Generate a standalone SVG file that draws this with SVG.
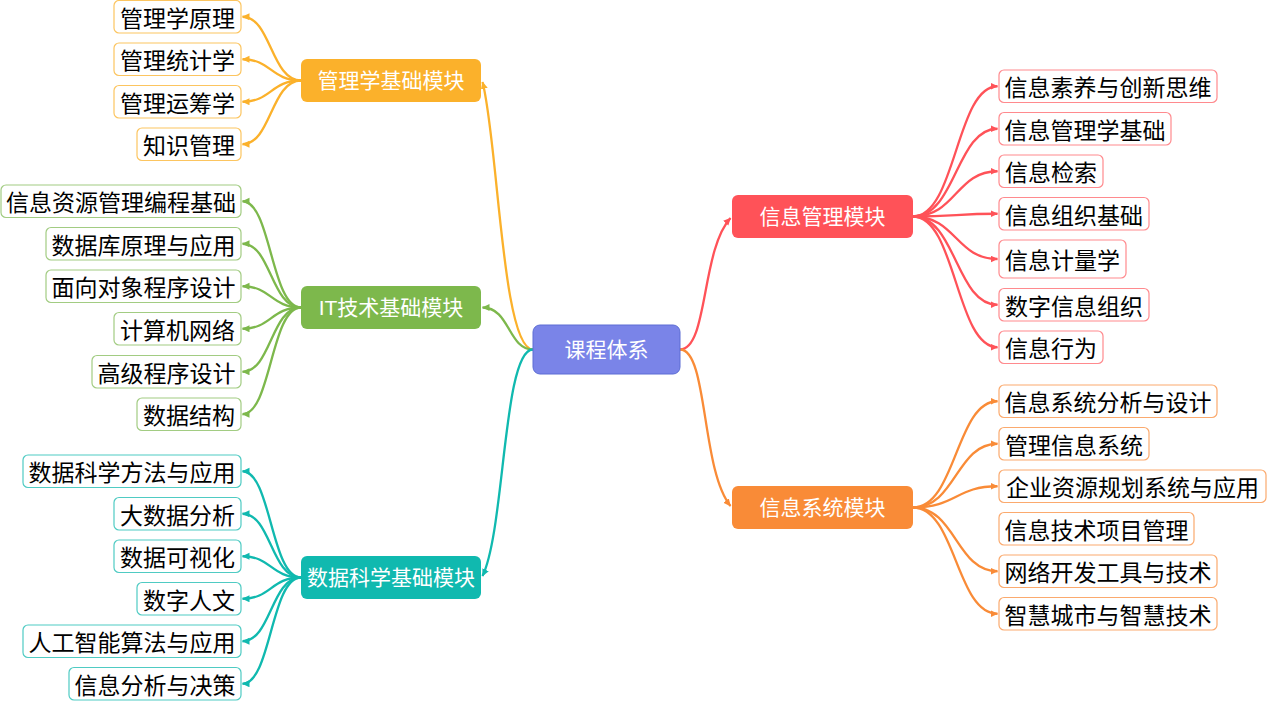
<svg xmlns="http://www.w3.org/2000/svg" width="1267" height="701" viewBox="0 0 1267 701">
<style>
text{font-family:"Liberation Sans","Noto Sans CJK SC",sans-serif;text-anchor:middle;dominant-baseline:central}
.leaf rect{fill:#fff;stroke-width:1.2}
.leaf text{font-size:23px;fill:#000;transform:translateY(2px)}
.mod text,.root text{font-size:21px;fill:#fff}
.c{fill:none;stroke-width:2.3}
.am{stroke:#FBB12B}.gr{stroke:#7DB84C}.te{stroke:#10B9AF}.re{stroke:#FF5258}.or{stroke:#F98B37}
.l-am rect{stroke:#FCC560}.l-gr rect{stroke:#A2CC82}.l-te rect{stroke:#4FCBC3}.l-re rect{stroke:#FF8A8E}.l-or rect{stroke:#FBAA6E}
</style>
<defs>
<marker id="a-am" markerUnits="userSpaceOnUse" markerWidth="8" markerHeight="8" refX="7" refY="3.5" orient="auto"><path d="M0,0L7.5,3.5L0,7z" fill="#FBB12B"/></marker>
<marker id="a-gr" markerUnits="userSpaceOnUse" markerWidth="8" markerHeight="8" refX="7" refY="3.5" orient="auto"><path d="M0,0L7.5,3.5L0,7z" fill="#7DB84C"/></marker>
<marker id="a-te" markerUnits="userSpaceOnUse" markerWidth="8" markerHeight="8" refX="7" refY="3.5" orient="auto"><path d="M0,0L7.5,3.5L0,7z" fill="#10B9AF"/></marker>
<marker id="a-re" markerUnits="userSpaceOnUse" markerWidth="8" markerHeight="8" refX="7" refY="3.5" orient="auto"><path d="M0,0L7.5,3.5L0,7z" fill="#FF5258"/></marker>
<marker id="a-or" markerUnits="userSpaceOnUse" markerWidth="8" markerHeight="8" refX="7" refY="3.5" orient="auto"><path d="M0,0L7.5,3.5L0,7z" fill="#F98B37"/></marker>
</defs>

<g id="connectors">
<path class="c am" marker-end="url(#a-am)" d="M533,349.5 C502,349.5 498,140 482.5,82"/>
<path class="c gr" marker-end="url(#a-gr)" d="M533,349.5 C508,349.5 510,307.5 482.5,307.5"/>
<path class="c te" marker-end="url(#a-te)" d="M533,349.5 C503,349.5 505,530 482.5,576"/>
<path class="c re" marker-end="url(#a-re)" d="M680,349.5 C708,349.5 701,250 730.5,218"/>
<path class="c or" marker-end="url(#a-or)" d="M680,349.5 C708,349.5 701,470 730.5,506"/>
<path class="c am" marker-end="url(#a-am)" d="M301,80.5 C271,80.5 271,16.75 242.5,16.75"/>
<path class="c am" marker-end="url(#a-am)" d="M301,80.5 C271,80.5 271,59.25 242.5,59.25"/>
<path class="c am" marker-end="url(#a-am)" d="M301,80.5 C271,80.5 271,101.75 242.5,101.75"/>
<path class="c am" marker-end="url(#a-am)" d="M301,80.5 C271,80.5 271,144.25 242.5,144.25"/>
<path class="c gr" marker-end="url(#a-gr)" d="M301,307.5 C271,307.5 271,201.25 242.5,201.25"/>
<path class="c gr" marker-end="url(#a-gr)" d="M301,307.5 C271,307.5 271,243.75 242.5,243.75"/>
<path class="c gr" marker-end="url(#a-gr)" d="M301,307.5 C271,307.5 271,286.25 242.5,286.25"/>
<path class="c gr" marker-end="url(#a-gr)" d="M301,307.5 C271,307.5 271,328.75 242.5,328.75"/>
<path class="c gr" marker-end="url(#a-gr)" d="M301,307.5 C271,307.5 271,371.75 242.5,371.75"/>
<path class="c gr" marker-end="url(#a-gr)" d="M301,307.5 C271,307.5 271,414.25 242.5,414.25"/>
<path class="c te" marker-end="url(#a-te)" d="M301,577.5 C271,577.5 271,471.25 242.5,471.25"/>
<path class="c te" marker-end="url(#a-te)" d="M301,577.5 C271,577.5 271,513.75 242.5,513.75"/>
<path class="c te" marker-end="url(#a-te)" d="M301,577.5 C271,577.5 271,556.25 242.5,556.25"/>
<path class="c te" marker-end="url(#a-te)" d="M301,577.5 C271,577.5 271,598.75 242.5,598.75"/>
<path class="c te" marker-end="url(#a-te)" d="M301,577.5 C271,577.5 271,641.25 242.5,641.25"/>
<path class="c te" marker-end="url(#a-te)" d="M301,577.5 C271,577.5 271,683.75 242.5,683.75"/>
<path class="c re" marker-end="url(#a-re)" d="M913,216.5 C956,216.5 956,86.25 997.5,86.25"/>
<path class="c re" marker-end="url(#a-re)" d="M913,216.5 C956,216.5 956,128.75 997.5,128.75"/>
<path class="c re" marker-end="url(#a-re)" d="M913,216.5 C956,216.5 956,171.25 997.5,171.25"/>
<path class="c re" marker-end="url(#a-re)" d="M913,216.5 C956,216.5 956,213.75 997.5,213.75"/>
<path class="c re" marker-end="url(#a-re)" d="M913,216.5 C956,216.5 956,259 997.5,259"/>
<path class="c re" marker-end="url(#a-re)" d="M913,216.5 C956,216.5 956,304.75 997.5,304.75"/>
<path class="c re" marker-end="url(#a-re)" d="M913,216.5 C956,216.5 956,347.25 997.5,347.25"/>
<path class="c or" marker-end="url(#a-or)" d="M913,507.5 C956,507.5 956,401.25 997.5,401.25"/>
<path class="c or" marker-end="url(#a-or)" d="M913,507.5 C956,507.5 956,443.75 997.5,443.75"/>
<path class="c or" marker-end="url(#a-or)" d="M913,507.5 C956,507.5 956,486.25 997.5,486.25"/>
<path class="c or" marker-end="url(#a-or)" d="M913,507.5 C956,507.5 956,571.25 997.5,571.25"/>
<path class="c or" marker-end="url(#a-or)" d="M913,507.5 C956,507.5 956,613.75 997.5,613.75"/>
</g>

<g id="root" class="root"><rect x="533" y="325" width="147" height="49" rx="7" fill="#7A84E8" stroke="#5C6DD4" stroke-width="1"/><text x="606.5" y="349.5">课程体系</text></g>

<g id="m-glx" class="mod"><rect x="301" y="59" width="180" height="43" rx="6" fill="#FBB12B"/><text x="391" y="80.5">管理学基础模块</text></g>
<g id="m-it" class="mod"><rect x="301" y="286" width="180" height="43" rx="6" fill="#7DB84C"/><text x="391" y="307.5">IT技术基础模块</text></g>
<g id="m-ds" class="mod"><rect x="301" y="556" width="180" height="43" rx="6" fill="#10B9AF"/><text x="391" y="577.5">数据科学基础模块</text></g>
<g id="m-im" class="mod"><rect x="732" y="195" width="181" height="43" rx="6" fill="#FF5258"/><text x="822.5" y="216.5">信息管理模块</text></g>
<g id="m-is" class="mod"><rect x="732" y="486" width="181" height="43" rx="6" fill="#F98B37"/><text x="822.5" y="507.5">信息系统模块</text></g>

<g id="l-glx1" class="leaf l-am"><rect x="114" y="0.5" width="127" height="32.5" rx="5"/><text x="177.5" y="16.75">管理学原理</text></g>
<g id="l-glx2" class="leaf l-am"><rect x="114" y="43" width="127" height="32.5" rx="5"/><text x="177.5" y="59.25">管理统计学</text></g>
<g id="l-glx3" class="leaf l-am"><rect x="114" y="85.5" width="127" height="32.5" rx="5"/><text x="177.5" y="101.75">管理运筹学</text></g>
<g id="l-glx4" class="leaf l-am"><rect x="137" y="128" width="104" height="32.5" rx="5"/><text x="189" y="144.25">知识管理</text></g>

<g id="l-it1" class="leaf l-gr"><rect x="1" y="185" width="240" height="32.5" rx="5"/><text x="121" y="201.25">信息资源管理编程基础</text></g>
<g id="l-it2" class="leaf l-gr"><rect x="46" y="227.5" width="195" height="32.5" rx="5"/><text x="143.5" y="243.75">数据库原理与应用</text></g>
<g id="l-it3" class="leaf l-gr"><rect x="46" y="270" width="195" height="32.5" rx="5"/><text x="143.5" y="286.25">面向对象程序设计</text></g>
<g id="l-it4" class="leaf l-gr"><rect x="114" y="312.5" width="127" height="32.5" rx="5"/><text x="177.5" y="328.75">计算机网络</text></g>
<g id="l-it5" class="leaf l-gr"><rect x="92" y="355.5" width="149" height="32.5" rx="5"/><text x="166.5" y="371.75">高级程序设计</text></g>
<g id="l-it6" class="leaf l-gr"><rect x="137" y="398" width="104" height="32.5" rx="5"/><text x="189" y="414.25">数据结构</text></g>

<g id="l-ds1" class="leaf l-te"><rect x="23" y="455" width="218" height="32.5" rx="5"/><text x="132" y="471.25">数据科学方法与应用</text></g>
<g id="l-ds2" class="leaf l-te"><rect x="114" y="497.5" width="127" height="32.5" rx="5"/><text x="177.5" y="513.75">大数据分析</text></g>
<g id="l-ds3" class="leaf l-te"><rect x="114" y="540" width="127" height="32.5" rx="5"/><text x="177.5" y="556.25">数据可视化</text></g>
<g id="l-ds4" class="leaf l-te"><rect x="137" y="582.5" width="104" height="32.5" rx="5"/><text x="189" y="598.75">数字人文</text></g>
<g id="l-ds5" class="leaf l-te"><rect x="23" y="625" width="218" height="32.5" rx="5"/><text x="132" y="641.25">人工智能算法与应用</text></g>
<g id="l-ds6" class="leaf l-te"><rect x="69" y="667.5" width="172" height="32.5" rx="5"/><text x="155" y="683.75">信息分析与决策</text></g>

<g id="l-im1" class="leaf l-re"><rect x="999" y="70" width="218" height="32.5" rx="5"/><text x="1108" y="86.25">信息素养与创新思维</text></g>
<g id="l-im2" class="leaf l-re"><rect x="999" y="112.5" width="172" height="32.5" rx="5"/><text x="1085" y="128.75">信息管理学基础</text></g>
<g id="l-im3" class="leaf l-re"><rect x="999" y="155" width="104" height="32.5" rx="5"/><text x="1051" y="171.25">信息检索</text></g>
<g id="l-im4" class="leaf l-re"><rect x="999" y="197.5" width="150" height="32.5" rx="5"/><text x="1074" y="213.75">信息组织基础</text></g>
<g id="l-im5" class="leaf l-re"><rect x="999" y="240" width="127" height="38" rx="5"/><text x="1062.5" y="259">信息计量学</text></g>
<g id="l-im6" class="leaf l-re"><rect x="999" y="288.5" width="150" height="32.5" rx="5"/><text x="1074" y="304.75">数字信息组织</text></g>
<g id="l-im7" class="leaf l-re"><rect x="999" y="331" width="104" height="32.5" rx="5"/><text x="1051" y="347.25">信息行为</text></g>

<g id="l-is1" class="leaf l-or"><rect x="999" y="385" width="218" height="32.5" rx="5"/><text x="1108" y="401.25">信息系统分析与设计</text></g>
<g id="l-is2" class="leaf l-or"><rect x="999" y="427.5" width="150" height="32.5" rx="5"/><text x="1074" y="443.75">管理信息系统</text></g>
<g id="l-is3" class="leaf l-or"><rect x="999" y="470" width="267" height="32.5" rx="5"/><text x="1132.5" y="486.25">企业资源规划系统与应用</text></g>
<g id="l-is4" class="leaf l-or"><rect x="999" y="512.5" width="195" height="32.5" rx="5"/><text x="1096.5" y="528.75">信息技术项目管理</text></g>
<g id="l-is5" class="leaf l-or"><rect x="999" y="555" width="218" height="32.5" rx="5"/><text x="1108" y="571.25">网络开发工具与技术</text></g>
<g id="l-is6" class="leaf l-or"><rect x="999" y="597.5" width="218" height="32.5" rx="5"/><text x="1108" y="613.75">智慧城市与智慧技术</text></g>
</svg>
